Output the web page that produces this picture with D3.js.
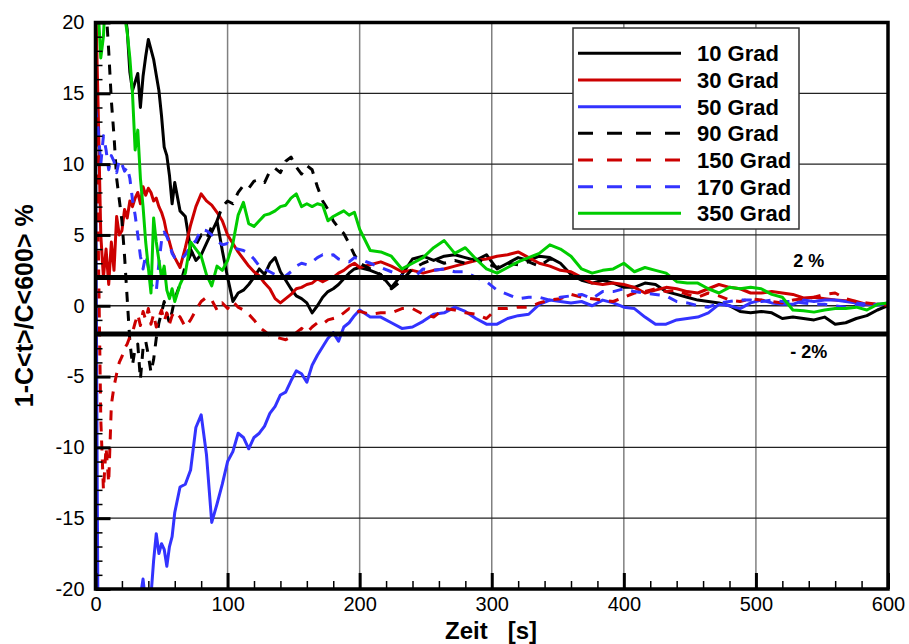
<!DOCTYPE html>
<html>
<head>
<meta charset="utf-8">
<script src="https://cdn.jsdelivr.net/npm/d3@7"></script>
<style>
  body { margin: 0; background: #fff; }
  svg { display: block; font-family: "Liberation Sans", Arial, sans-serif; }
</style>
</head>
<body>
<svg width="909" height="644"></svg>
<script>
// Zeitachse [s]
var zeit = [0,2,4,6,8,10,12,14,16,18,20,22,24,26,28,30,32,34,36,38,40,42,44,46,48,50,52,54,56,58,60,
  64,68,72,76,80,84,88,92,96,100,104,108,112,116,120,124,128,132,136,140,144,148,152,156,160,164,168,172,176,180,184,188,192,196,200,
  208,216,224,232,240,248,256,264,272,280,288,296,304,312,320,328,336,344,352,360,368,376,384,392,400,408,416,424,432,440,448,456,464,472,480,488,496,504,512,520,528,536,544,552,560,568,576,584,592,600];

// 1-C<t>/C<600> in %
var grad10 = [30,29,28,27,26,25,24,23,22.5,22,21.5,20.8,19.5,16.5,15.2,15.8,16.4,14.0,16.2,17.6,18.8,18.1,17.4,16.3,15.2,13.4,11.2,10.6,9.2,7.2,8.7,
  6.7,6.3,4.0,3.2,3.6,4.4,5.2,6.0,3.9,2.0,0.3,0.9,1.1,1.5,2.0,2.6,2.2,3.0,3.4,2.4,1.8,1.2,0.7,0.5,0.2,-0.5,0.0,0.6,1.0,1.2,1.5,1.9,2.3,2.6,2.7,
  2.5,2.2,1.3,2.2,3.3,3.5,3.2,3.5,3.6,3.4,3.2,3.6,2.6,3.0,3.4,3.2,3.5,3.4,3.0,2.2,1.8,1.6,1.8,1.6,1.3,1.3,1.6,1.5,1.0,0.8,
  0.6,0.4,0.3,0.2,0.0,-0.4,-0.5,-0.4,-0.5,-0.9,-0.8,-0.9,-1.0,-0.8,-1.3,-1.2,-0.9,-0.7,-0.3,0.0];
var grad30 = [22,14,5,2,4,1.5,4.5,2.5,6.3,5.0,5.3,6.8,6.2,7.4,7.0,7.6,8.0,7.2,8.4,7.8,8.3,8.0,7.4,7.6,7.0,6.6,6.0,5.1,4.5,3.8,3.4,
  2.7,4.1,5.7,7.0,7.9,7.4,7.1,6.6,6.0,5.0,4.4,3.8,3.3,2.8,2.4,2.1,1.6,1.2,0.5,0.2,0.5,0.8,1.2,1.3,1.5,1.6,1.9,1.7,1.9,2.0,2.3,2.5,2.8,3.0,2.7,
  2.9,3.1,2.8,2.4,2.5,2.3,2.5,2.6,2.8,3.0,3.2,3.3,3.5,3.6,3.8,3.4,3.0,2.8,2.5,2.4,2.0,1.6,1.5,1.6,1.5,1.3,0.9,1.1,1.3,1.2,
  1.0,0.9,1.2,1.5,1.3,1.2,0.9,0.9,1.0,0.9,0.8,0.55,0.6,0.5,0.4,0.35,0.3,0.1,0.1,0.05];
var grad50 = [12,-25,-25,-25,-25,-25,-25,-25,-25,-25,-25,-25,-25,-25,-24,-22,-21,-20.5,-19.3,-21,-22,-20.5,-18,-16.1,-17.5,-16.8,-17.2,-18.4,-17.0,-16.3,-14.6,
  -12.8,-12.6,-11.6,-8.6,-7.7,-10.5,-15.3,-14.0,-12.6,-11.0,-10.3,-9.0,-9.3,-10.1,-9.3,-9.0,-8.5,-7.6,-7.1,-6.3,-6.1,-5.3,-4.6,-4.8,-5.4,-4.2,-3.5,-2.9,-2.3,-1.9,-2.5,-1.5,-1.2,-0.7,-0.3,
  -0.8,-0.8,-1.2,-1.6,-1.5,-1.1,-0.6,-0.5,-0.1,-0.4,-0.9,-1.3,-1.3,-0.9,-0.7,-0.6,0.1,0.4,0.3,0.2,0.3,0.0,0.4,0.2,-0.1,-0.2,-0.8,-1.3,-1.3,-1.0,
  -0.9,-0.8,-0.5,0.1,0.0,-0.2,0.2,0.4,0.2,0.1,0.1,0.4,0.3,0.4,0.4,0.3,0.2,0.1,0.05,0.2];
var grad90 = [25,24,23,22,21,18,14.5,12,9,7.5,6.0,3.5,0.5,-2.5,-4.2,-3.0,-2.7,-5.2,-3.0,-2.5,-3.5,-4.7,-3.8,-2.3,-1.2,-0.5,0.3,-0.6,-1.2,-0.4,0.5,
  1.5,2.8,3.6,4.3,5.0,4.7,5.6,6.0,7.0,7.4,7.2,8.0,8.5,8.3,8.8,8.9,8.7,9.5,9.7,9.4,10.2,10.5,9.8,9.3,9.9,9.6,8.4,7.4,6.8,6.0,5.5,5.1,4.4,3.6,3.0,
  2.6,2.2,1.2,1.8,2.6,3.0,3.3,3.0,3.2,3.0,3.3,3.0,2.7,3.0,2.9,3.1,2.8,3.3,3.2];
var grad150 = [20,5,-8,-13,-10,-12.5,-7,-5.7,-4.8,-4.0,-3.6,-3.0,-2.7,-2.2,-1.9,-1.2,-0.6,-1.4,-0.4,-1.0,-0.2,-1.3,-0.6,-1.5,-0.8,-0.3,-1.1,-0.5,-1.3,-0.7,-0.4,
  -0.8,-1.5,-1.0,-0.3,0.3,0.6,0.4,-0.3,0.2,-0.2,0.3,-0.1,-0.3,-0.6,-1.0,-1.5,-1.8,-2.1,-2.2,-2.3,-2.4,-2.2,-1.9,-1.6,-1.9,-1.5,-1.2,-1.3,-1.0,-0.9,-0.8,-0.5,-0.2,-0.5,-0.4,
  -0.6,-0.5,-0.5,-0.2,-0.2,-0.6,-0.8,-0.2,-0.3,-0.5,-0.6,-0.9,-0.2,-0.2,-0.1,-0.1,0.2,0.4,0.5,0.8,0.6,0.5,0.4,0.3,0.6,0.9,1.0,1.2,1.0,1.1,
  0.8,0.6,0.9,0.7,0.4,0.3,0.5,0.4,0.3,0.2,0.4,0.5,0.6,0.8,0.9,0.5,0.3,0.2,0.1,0.05];
var grad170 = [14,12.5,10,12,11,9.6,10.6,10.2,9.4,10.3,10.0,9.5,9.8,9.0,7.5,6.4,5.0,3.5,2.6,3.6,2.7,1.6,1.2,1.0,3.0,4.6,5.2,4.9,4.4,3.7,3.4,
  3.2,3.6,4.2,4.6,5.4,5.3,5.0,4.6,4.3,4.4,4.1,4.0,3.9,3.7,3.3,2.8,2.6,2.4,2.2,2.0,2.1,2.4,2.8,3.0,2.9,3.1,3.4,3.6,3.5,3.6,3.3,3.2,3.1,3.4,3.3,
  3.0,2.7,2.4,2.1,1.9,2.6,2.5,2.6,2.4,2.4,2.0,1.7,1.1,0.8,0.5,0.6,0.6,0.4,0.6,0.7,0.8,0.5,1.0,1.0,1.2,1.0,0.9,0.8,0.7,0.3,
  0.2,0.0,-0.1,0.2,0.3,0.4,0.4,0.3,0.4,0.3,0.3,0.2,0.1,0.1,0.0,-0.1,0.1,0.0,0.1,0.1];
var grad350 = [25,21,17.5,19,23,24,24,24,23,22,21,20.5,19.3,17.5,15.0,11.0,12.4,9.0,7.0,4.5,2.7,0.9,6.2,4.5,3.2,2.0,2.8,1.1,0.5,1.2,0.3,
  1.5,2.3,4.5,4.0,3.5,2.2,1.4,2.8,2.5,3.2,4.4,6.4,7.3,5.8,5.6,6.0,6.4,6.5,6.7,7.0,7.1,7.6,7.9,7.0,7.2,7.0,7.2,7.1,6.0,6.3,6.5,6.7,6.4,6.6,5.4,
  3.9,3.8,3.5,2.6,3.0,3.4,4.1,4.6,3.7,4.1,3.3,2.6,2.3,2.7,3.1,3.4,3.7,4.3,4.0,3.5,2.6,2.3,2.5,2.6,3.0,2.4,2.7,2.5,2.3,1.7,
  1.6,1.6,1.2,0.9,1.3,1.2,1.3,1.2,0.8,0.6,-0.3,-0.35,-0.45,-0.3,-0.2,-0.2,-0.1,-0.3,0.1,0.2];

var namen = ["10 Grad", "30 Grad", "50 Grad", "90 Grad", "150 Grad", "170 Grad", "350 Grad"];
var werte = [grad10, grad30, grad50, grad90, grad150, grad170, grad350];
var farben = ["#000000", "#cc0000", "#3333ff", "#000000", "#cc0000", "#3333ff", "#00cc00"];
var gestrichelt = [false, false, false, true, true, true, false];

var xTicks = [0, 100, 200, 300, 400, 500, 600];
var yTicks = [-20, -15, -10, -5, 0, 5, 10, 15, 20];
var grenzen = [2, -2];

var svg = d3.select("svg"),
    margin = { top: 22.5, right: 21, bottom: 55, left: 95.5 },
    width = +svg.attr("width") - margin.left - margin.right,
    height = +svg.attr("height") - margin.top - margin.bottom,
    g = svg.append("g").attr("transform", "translate(" + margin.left + "," + margin.top + ")");

var x = d3.scaleLinear().domain([0, 600]).range([0, width]);
var y = d3.scaleLinear().domain([-20, 20]).range([height, 0]);

svg.append("defs").append("clipPath").attr("id", "plot")
    .append("rect").attr("width", width).attr("height", height);

// grid
g.selectAll(".vgrid").data(xTicks.slice(1, -1)).enter().append("line")
    .attr("x1", x).attr("x2", x).attr("y1", 0).attr("y2", height)
    .attr("stroke", "#808080").attr("stroke-width", 1.5);
g.selectAll(".hgrid").data(yTicks.slice(1, -1)).enter().append("line")
    .attr("x1", 0).attr("x2", width).attr("y1", y).attr("y2", y)
    .attr("stroke", "#222").attr("stroke-width", 1.3);

// curves
var line = d3.line()
    .defined(function (d) { return d.v != null; })
    .x(function (d) { return x(d.t); })
    .y(function (d) { return y(d.v); });

var kurven = g.append("g").attr("clip-path", "url(#plot)");
werte.forEach(function (arr, i) {
    var daten = zeit.map(function (t, k) { return { t: t, v: arr[k] }; });
    kurven.append("path")
        .datum(daten)
        .attr("fill", "none")
        .attr("stroke", farben[i])
        .attr("stroke-width", 3)
        .attr("stroke-linejoin", "round")
        .attr("stroke-dasharray", gestrichelt[i] ? "10,9" : null)
        .attr("d", line);
});

// +/- 2 % bands
g.selectAll(".grenze").data(grenzen).enter().append("line")
    .attr("x1", 0).attr("x2", width).attr("y1", y).attr("y2", y)
    .attr("stroke", "#000").attr("stroke-width", 5);

// axes
var xMinor = d3.range(20, 600, 20).filter(function (d) { return d % 100 !== 0; });
var yMinor = d3.range(-19, 20, 1).filter(function (d) { return d % 5 !== 0; });
var plain = function (d) { return String(d); };

g.append("g").attr("transform", "translate(0," + height + ")")
    .call(d3.axisBottom(x).tickValues(xMinor).tickSize(-8).tickFormat(""))
    .call(function (a) { a.select(".domain").remove(); a.selectAll("line").attr("stroke-width", 1.5); });
g.append("g").attr("transform", "translate(0," + height + ")")
    .call(d3.axisBottom(x).tickValues(xTicks).tickSize(-16).tickPadding(8).tickFormat(plain))
    .call(function (a) {
        a.select(".domain").remove();
        a.selectAll("line").attr("stroke-width", 3);
        a.selectAll("text").attr("font-size", 20).attr("font-family", "Liberation Sans, Arial, sans-serif");
    });

g.append("g")
    .call(d3.axisLeft(y).tickValues(yMinor).tickSize(-7).tickFormat(""))
    .call(function (a) { a.select(".domain").remove(); a.selectAll("line").attr("stroke-width", 1.5); });
g.append("g")
    .call(d3.axisLeft(y).tickValues(yTicks).tickSize(-15).tickPadding(11).tickFormat(plain))
    .call(function (a) {
        a.select(".domain").remove();
        a.selectAll("line").attr("stroke-width", 3);
        a.selectAll("text").attr("font-size", 20).attr("font-family", "Liberation Sans, Arial, sans-serif");
    });

// frame
g.append("rect").attr("width", width).attr("height", height)
    .attr("fill", "none").attr("stroke", "#000").attr("stroke-width", 3.5);

// band labels
g.append("text").attr("x", x(540)).attr("y", y(2) - 10)
    .attr("text-anchor", "middle").attr("font-size", 18).attr("font-weight", "bold").text("2 %");
g.append("text").attr("x", x(540)).attr("y", y(-2) + 24)
    .attr("text-anchor", "middle").attr("font-size", 18).attr("font-weight", "bold").text("- 2%");

// legend
var leg = svg.append("g").attr("transform", "translate(573,28)");
leg.append("rect").attr("width", 226).attr("height", 201)
    .attr("fill", "#fff").attr("stroke", "#333").attr("stroke-width", 1.5);
namen.forEach(function (n, i) {
    var ly = 25.3 + i * 26.67;
    leg.append("line").attr("x1", 5).attr("x2", 108).attr("y1", ly).attr("y2", ly)
        .attr("stroke", farben[i]).attr("stroke-width", 3)
        .attr("stroke-dasharray", gestrichelt[i] ? "15,14" : null);
    leg.append("text").attr("x", 124).attr("y", ly + 8)
        .attr("font-size", 22).attr("font-weight", "bold").text(n);
});

// axis titles
svg.append("text")
    .attr("x", 491).attr("y", 638.5)
    .attr("text-anchor", "middle").attr("font-size", 24).attr("font-weight", "bold")
    .attr("xml:space", "preserve").style("white-space", "pre")
    .text("Zeit   [s]");
svg.append("text")
    .attr("transform", "translate(33," + (margin.top + height / 2) + ") rotate(-90)")
    .attr("text-anchor", "middle").attr("font-size", 25).attr("font-weight", "bold")
    .text("1-C<t>/C<600> %");
</script>
</body>
</html>
